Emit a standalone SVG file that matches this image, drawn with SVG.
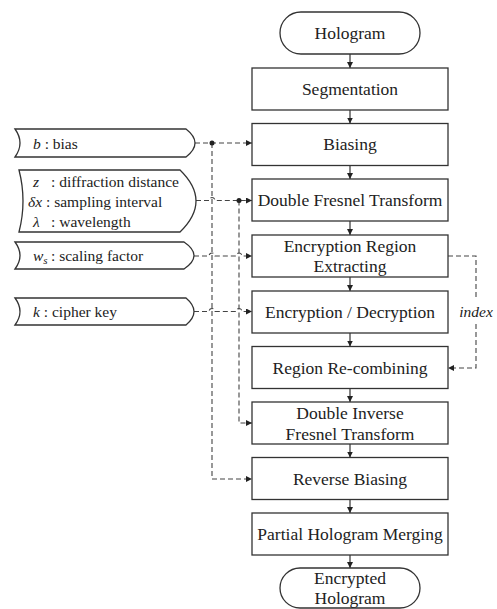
<svg xmlns="http://www.w3.org/2000/svg" width="497" height="609" viewBox="0 0 497 609">
<defs>
<style>
.box{fill:#fff;stroke:#333;stroke-width:1.3}
.t{font-size:17.5px;fill:#222;text-anchor:middle}
.l{font-size:15.5px;fill:#222}
.i{font-style:italic}
.solid{fill:none;stroke:#333;stroke-width:1.2}
.dash{fill:none;stroke:#444;stroke-width:1.1;stroke-dasharray:5 3}
</style>
<marker id="ah" viewBox="0 0 10 10" refX="10" refY="5" markerWidth="6" markerHeight="6" markerUnits="userSpaceOnUse" orient="auto">
<path d="M0,0 L10,5 L0,10 Z" fill="#222"/>
</marker>
</defs>
<rect width="497" height="609" fill="#fff"/>
<g font-family="Liberation Serif, Times New Roman, Tinos, DejaVu Serif, serif">
<g id="connectors">
<line class="solid" x1="350" y1="54" x2="350" y2="68" marker-end="url(#ah)"/>
<line class="solid" x1="350" y1="110" x2="350" y2="123.5" marker-end="url(#ah)"/>
<line class="solid" x1="350" y1="165.5" x2="350" y2="179" marker-end="url(#ah)"/>
<line class="solid" x1="350" y1="221" x2="350" y2="235" marker-end="url(#ah)"/>
<line class="solid" x1="350" y1="277" x2="350" y2="291" marker-end="url(#ah)"/>
<line class="solid" x1="350" y1="333" x2="350" y2="346.5" marker-end="url(#ah)"/>
<line class="solid" x1="350" y1="388.5" x2="350" y2="402" marker-end="url(#ah)"/>
<line class="solid" x1="350" y1="444" x2="350" y2="457.5" marker-end="url(#ah)"/>
<line class="solid" x1="350" y1="499.5" x2="350" y2="513" marker-end="url(#ah)"/>
<line class="solid" x1="350" y1="555" x2="350" y2="568" marker-end="url(#ah)"/>

<path class="dash" d="M195,143 H252" marker-end="url(#ah)"/>
<path class="dash" d="M212,143 V479 H252" marker-end="url(#ah)"/>
<circle cx="212" cy="143" r="2.5" fill="#222"/>

<path class="dash" d="M196,200.5 H209 A3,3 0 0 1 215,200.5 H252" marker-end="url(#ah)"/>
<path class="dash" d="M239,200.5 V423 H252" marker-end="url(#ah)"/>
<circle cx="239" cy="200.5" r="2.5" fill="#222"/>

<path class="dash" d="M194,256 H209 A3,3 0 0 1 215,256 H236 A3,3 0 0 1 242,256 H252" marker-end="url(#ah)"/>
<path class="dash" d="M194,311.5 H209 A3,3 0 0 1 215,311.5 H236 A3,3 0 0 1 242,311.5 H252" marker-end="url(#ah)"/>

<path class="dash" d="M448,256 H476 V368 H448" marker-end="url(#ah)"/>
<rect x="459" y="300" width="36" height="22" fill="#fff"/>
<text class="l i" x="476" y="317" text-anchor="middle">index</text>
</g>

<g id="n-hologram">
<rect class="box" x="280" y="12" width="140" height="42" rx="21"/>
<text class="t" x="350" y="39">Hologram</text>
</g>
<g id="n-segmentation">
<rect class="box" x="252" y="68" width="196" height="42"/>
<text class="t" x="350" y="95">Segmentation</text>
</g>
<g id="n-biasing">
<rect class="box" x="252" y="123.5" width="196" height="42"/>
<text class="t" x="350" y="150">Biasing</text>
</g>
<g id="n-dft">
<rect class="box" x="252" y="179" width="196" height="42"/>
<text class="t" x="350" y="206">Double Fresnel Transform</text>
</g>
<g id="n-ere">
<rect class="box" x="252" y="235" width="196" height="42"/>
<text class="t" x="350" y="252">Encryption Region</text>
<text class="t" x="350" y="272">Extracting</text>
</g>
<g id="n-encdec">
<rect class="box" x="252" y="291" width="196" height="42"/>
<text class="t" x="350" y="318">Encryption / Decryption</text>
</g>
<g id="n-recombine">
<rect class="box" x="252" y="346.5" width="196" height="42"/>
<text class="t" x="350" y="373.5">Region Re-combining</text>
</g>
<g id="n-difft">
<rect class="box" x="252" y="402" width="196" height="42"/>
<text class="t" x="350" y="419">Double Inverse</text>
<text class="t" x="350" y="440">Fresnel Transform</text>
</g>
<g id="n-revbias">
<rect class="box" x="252" y="457.5" width="196" height="42"/>
<text class="t" x="350" y="484.5">Reverse Biasing</text>
</g>
<g id="n-merge">
<rect class="box" x="252" y="513" width="196" height="42"/>
<text class="t" x="350" y="540">Partial Hologram Merging</text>
</g>
<g id="n-encrypted">
<rect class="box" x="280" y="568" width="140" height="40" rx="20"/>
<text class="t" x="350" y="583.5" font-size="17">Encrypted</text>
<text class="t" x="350" y="603.5" font-size="17">Hologram</text>
</g>

<g id="p-bias">
<path class="box" d="M15,129 H186 Q204,143 186,157 H15 Q25,143 15,129 Z"/>
<text class="l" x="33" y="148.5"><tspan class="i">b</tspan> : bias</text>
</g>
<g id="p-optics">
<path class="box" d="M19,170 H180 Q212,201 180,232 H19 Q27,201 19,170 Z"/>
<text class="l" y="187"><tspan class="i" x="33">z</tspan><tspan x="51">: diffraction distance</tspan></text>
<text class="l" y="207"><tspan class="i" x="28">δx</tspan><tspan x="46">: sampling interval</tspan></text>
<text class="l" y="227"><tspan class="i" x="33">λ</tspan><tspan x="51">: wavelength</tspan></text>
</g>
<g id="p-scale">
<path class="box" d="M15,242 H184 Q204,255.5 184,269 H15 Q25,255.5 15,242 Z"/>
<text class="l" y="261"><tspan class="i" x="33">w</tspan><tspan class="i" font-size="11" dy="3">s</tspan><tspan x="51" dy="-3">: scaling factor</tspan></text>
</g>
<g id="p-key">
<path class="box" d="M15,298 H186 Q202,311.5 186,325 H15 Q25,311.5 15,298 Z"/>
<text class="l" x="33" y="317"><tspan class="i">k</tspan> : cipher key</text>
</g>
</g>
</svg>
